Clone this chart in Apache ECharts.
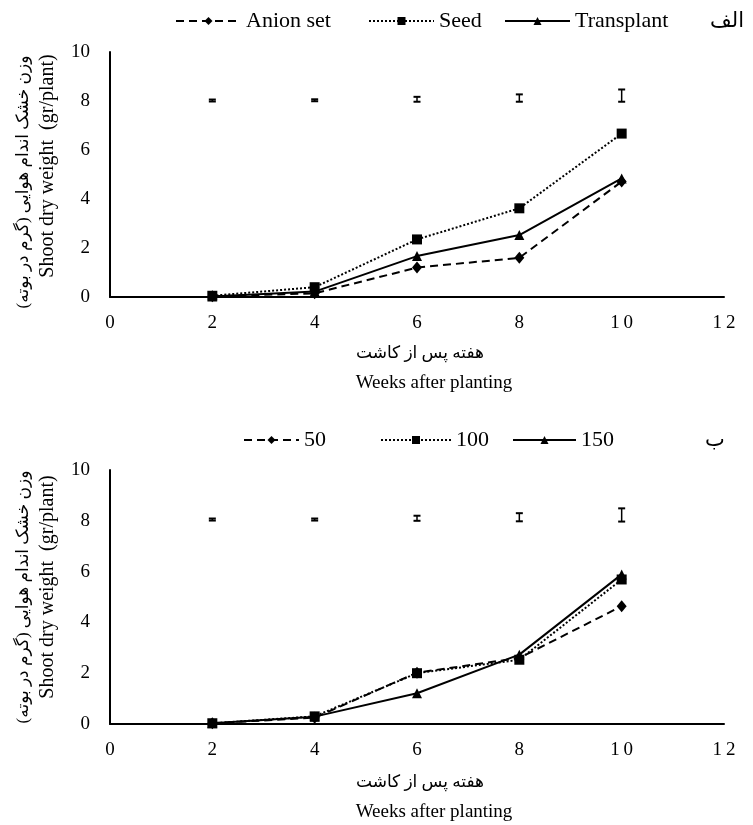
<!DOCTYPE html>
<html>
<head>
<meta charset="utf-8">
<script src="https://cdn.jsdelivr.net/npm/echarts@6/dist/echarts.min.js"></script>
<style>
html,body{margin:0;padding:0;background:#fff;}
#chart{width:753px;height:825px;}
</style>
</head>
<body>
<div id="chart"></div>
<script>
// ---- data ----
const weeks = [2, 4, 6, 8, 10];
// chart الف
const anionSet   = [0.03, 0.15, 1.20, 1.60, 4.71];
const seed       = [0.05, 0.40, 2.35, 3.62, 6.67];
const transplant = [0.02, 0.22, 1.67, 2.53, 4.84];
const lsdTopCenter = [8.02, 8.03, 8.07, 8.12, 8.22];
const lsdTopHalf   = [0.04, 0.04, 0.10, 0.15, 0.25];
// chart ب
const n50  = [0.03, 0.25, 2.02, 2.60, 4.64];
const n100 = [0.03, 0.30, 2.00, 2.53, 5.69];
const n150 = [0.03, 0.29, 1.21, 2.73, 5.89];
const lsdBotCenter = [8.05, 8.05, 8.10, 8.14, 8.23];
const lsdBotHalf   = [0.04, 0.04, 0.10, 0.16, 0.26];

const namesTop = ['Anion set', 'Seed', 'Transplant'];
const namesBot = ['50', '100', '150'];
const yTitleFa = 'وزن خشک اندام هوایی (گرم در بوته)';
const yTitleEn = 'Shoot dry weight  (gr/plant)';
const xTitleFa = 'هفته پس از کاشت';
const xTitleEn = 'Weeks after planting';
const labelTop = 'الف';
const labelBot = 'ب';

const SERIF = "'Liberation Serif', 'Times New Roman', 'DejaVu Serif', serif";
const FA = "'Liberation Serif', 'DejaVu Sans', sans-serif";

const chart = echarts.init(document.getElementById('chart'), null, {renderer: 'canvas'});

function pts(arr) { return weeks.map((w, i) => [w, arr[i]]); }
function errPts(c, h) { return weeks.map((w, i) => [w, c[i], h[i]]); }

const styles = [
  {symbol: 'diamond', symbolSize: [10, 12], lineType: [8, 5]},
  {symbol: 'rect', symbolSize: 10, lineType: [2, 2]},
  {symbol: 'triangle', symbolSize: 10, lineType: 'solid'}
];

function lineSeries(name, arr, idx, k) {
  const s = styles[k];
  return {
    name: name, type: 'line', xAxisIndex: idx, yAxisIndex: idx,
    data: pts(arr),
    symbol: s.symbol, symbolSize: s.symbolSize,
    lineStyle: {color: '#000', width: 2, type: s.lineType},
    itemStyle: {color: '#000'},
    z: 3
  };
}

function errSeries(c, h, idx) {
  return {
    type: 'custom', xAxisIndex: idx, yAxisIndex: idx,
    data: errPts(c, h),
    encode: {x: 0, y: 1},
    renderItem: function (params, api) {
      const x = api.value(0), m = api.value(1), d = api.value(2);
      const t = api.coord([x, m + d]);
      const b = api.coord([x, m - d]);
      const w = 3.5;
      return {
        type: 'group',
        children: [
          {type: 'line', shape: {x1: t[0], y1: t[1], x2: b[0], y2: b[1]}, style: {stroke: '#000', lineWidth: 1.5}},
          {type: 'line', shape: {x1: t[0] - w, y1: t[1], x2: t[0] + w, y2: t[1]}, style: {stroke: '#000', lineWidth: 2}},
          {type: 'line', shape: {x1: b[0] - w, y1: b[1], x2: b[0] + w, y2: b[1]}, style: {stroke: '#000', lineWidth: 2}}
        ]
      };
    },
    z: 4
  };
}

function xAxis(idx) {
  return {
    type: 'value', gridIndex: idx, min: 0, max: 12, interval: 2,
    axisLine: {show: true, onZero: false, lineStyle: {color: '#000', width: 2}},
    axisTick: {show: false},
    splitLine: {show: false},
    axisLabel: {
      color: '#000', fontFamily: SERIF, fontSize: 19, margin: 17,
      formatter: v => String(v).split('').join('\u2009')
    }
  };
}
function yAxis(idx) {
  return {
    type: 'value', gridIndex: idx, min: 0, max: 10, interval: 2,
    axisLine: {show: true, onZero: false, lineStyle: {color: '#000', width: 2}},
    axisTick: {show: false},
    splitLine: {show: false},
    axisLabel: {color: '#000', fontFamily: SERIF, fontSize: 19, margin: 20}
  };
}

function legend(name, left, top, w) {
  return {
    data: [name], left: left, top: top, padding: 0,
    itemWidth: w, itemHeight: 10, itemGap: 0,
    textStyle: {color: '#000', fontFamily: SERIF, fontSize: 22},
    selectedMode: false
  };
}

function txt(text, x, y, size, font, rot) {
  return {
    type: 'text', x: x, y: y, rotation: rot || 0,
    style: {text: text, x: 0, y: 0, align: 'center', verticalAlign: 'middle',
      fill: '#000', font: size + 'px ' + font}
  };
}

const option = {
  animation: false,
  backgroundColor: '#fff',
  grid: [
    {left: 110, top: 52, width: 614, height: 245},
    {left: 110, top: 470, width: 614, height: 254}
  ],
  xAxis: [xAxis(0), xAxis(1)],
  yAxis: [yAxis(0), yAxis(1)],
  legend: [
    legend(namesTop[0], 175, 10, 65),
    legend(namesTop[1], 368, 10, 65),
    legend(namesTop[2], 504, 10, 65),
    legend(namesBot[0], 243, 429, 55),
    legend(namesBot[1], 380, 429, 70),
    legend(namesBot[2], 512, 429, 63)
  ],
  series: [
    lineSeries(namesTop[0], anionSet, 0, 0),
    lineSeries(namesTop[1], seed, 0, 1),
    lineSeries(namesTop[2], transplant, 0, 2),
    errSeries(lsdTopCenter, lsdTopHalf, 0),
    lineSeries(namesBot[0], n50, 1, 0),
    lineSeries(namesBot[1], n100, 1, 1),
    lineSeries(namesBot[2], n150, 1, 2),
    errSeries(lsdBotCenter, lsdBotHalf, 1)
  ],
  graphic: [
    txt(labelTop, 727, 21, 21, FA),
    txt(labelBot, 715, 440, 21, FA),
    txt(yTitleFa, 24, 182, 17, FA, Math.PI / 2),
    txt(yTitleEn, 48, 166, 20, SERIF, Math.PI / 2),
    txt(yTitleFa, 24, 597, 17, FA, Math.PI / 2),
    txt(yTitleEn, 48, 587, 20, SERIF, Math.PI / 2),
    txt(xTitleFa, 420, 354, 17, FA),
    txt(xTitleEn, 434, 383, 19, SERIF),
    txt(xTitleFa, 420, 783, 17, FA),
    txt(xTitleEn, 434, 812, 19, SERIF)
  ]
};
chart.setOption(option);
</script>
</body>
</html>
